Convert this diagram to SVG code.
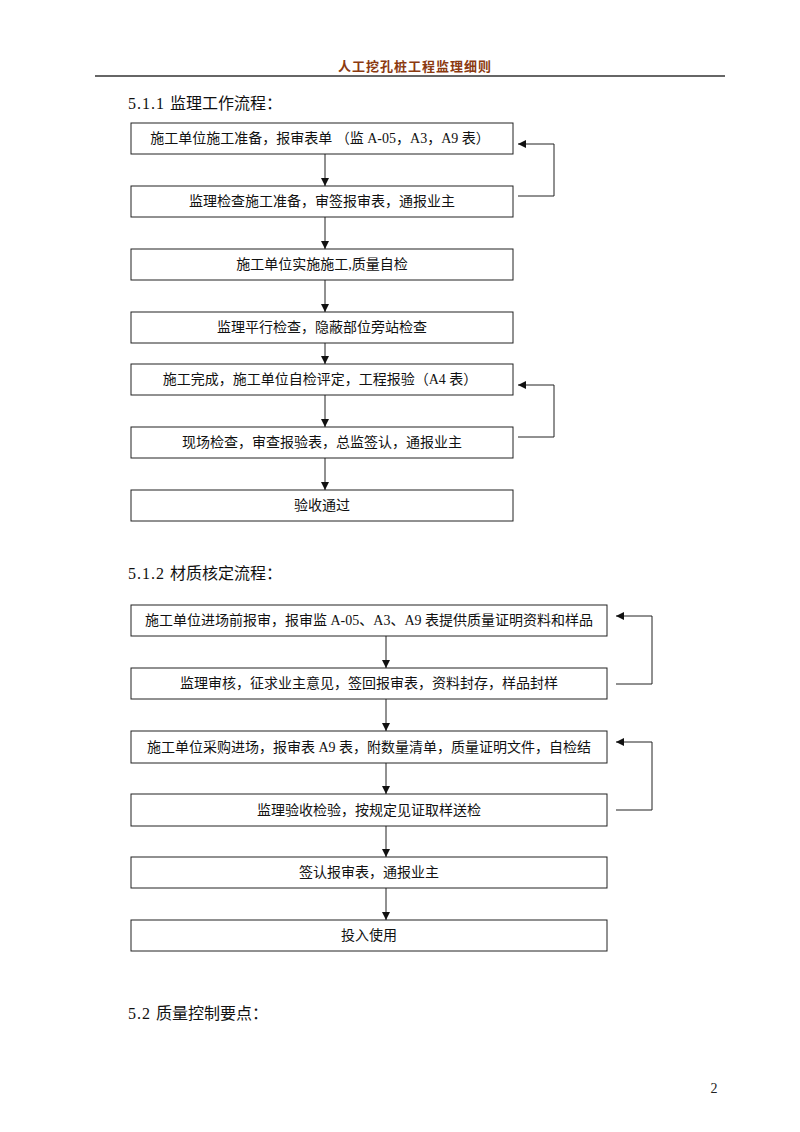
<svg xmlns="http://www.w3.org/2000/svg" width="800" height="1132" viewBox="0 0 800 1132">
<style>
.bg{fill:#fff}
.box{fill:#fff;stroke:#222;stroke-width:1}
.t{font-family:"Liberation Serif","Noto Sans CJK SC",serif;font-size:14px;fill:#111;text-anchor:middle;dominant-baseline:central}
.h{font-family:"Liberation Serif","Noto Sans CJK SC",serif;font-size:16px;fill:#111}
.num{letter-spacing:1px}
.hdr{font-family:"Liberation Serif","Noto Sans CJK SC",serif;font-size:13px;font-weight:bold;fill:#8B3A10;text-anchor:middle;letter-spacing:1px}
.ln{fill:none;stroke:#222;stroke-width:1}
</style>
<defs>
<marker id="ah" markerWidth="8" markerHeight="8" refX="8" refY="4" orient="auto" markerUnits="userSpaceOnUse">
<path d="M0,0 L8,4 L0,8 Z" fill="#111"/>
</marker>
</defs>
<rect class="bg" x="0" y="0" width="800" height="1132"/>
<g id="header">
<text class="hdr" x="415" y="71">人工挖孔桩工程监理细则</text>
<line x1="95" y1="76" x2="725" y2="76" stroke="#333" stroke-width="1.5"/>
</g>
<text class="h" x="128" y="109"><tspan class="num">5.1.1 </tspan>监理工作流程：</text>
<g id="f1n1"><rect class="box" x="131" y="123" width="382" height="31"/><text class="t" x="320" y="138.5">施工单位施工准备，报审表单 （监 A-05，A3，A9 表）</text></g>
<g id="f1n2"><rect class="box" x="131" y="186" width="382" height="31"/><text class="t" x="322" y="201.5">监理检查施工准备，审签报审表，通报业主</text></g>
<g id="f1n3"><rect class="box" x="131" y="249" width="382" height="31"/><text class="t" x="322" y="264.5">施工单位实施施工,质量自检</text></g>
<g id="f1n4"><rect class="box" x="131" y="312" width="382" height="31"/><text class="t" x="322" y="327.5">监理平行检查，隐蔽部位旁站检查</text></g>
<g id="f1n5"><rect class="box" x="131" y="364" width="382" height="31"/><text class="t" x="320" y="379.5">施工完成，施工单位自检评定，工程报验（A4 表）</text></g>
<g id="f1n6"><rect class="box" x="131" y="427" width="382" height="31"/><text class="t" x="322" y="442.5">现场检查，审查报验表，总监签认，通报业主</text></g>
<g id="f1n7"><rect class="box" x="131" y="490" width="382" height="31"/><text class="t" x="322" y="505.5">验收通过</text></g>
<text class="h" x="128" y="579"><tspan class="num">5.1.2 </tspan>材质核定流程：</text>
<g id="f2n1"><rect class="box" x="131" y="605" width="476" height="31"/><text class="t" x="369" y="620.5">施工单位进场前报审，报审监 A-05、A3、A9 表提供质量证明资料和样品</text></g>
<g id="f2n2"><rect class="box" x="131" y="668" width="476" height="31"/><text class="t" x="369" y="683.5">监理审核，征求业主意见，签回报审表，资料封存，样品封样</text></g>
<g id="f2n3"><rect class="box" x="131" y="731" width="476" height="32"/><text class="t" x="369" y="747">施工单位采购进场，报审表 A9 表，附数量清单，质量证明文件，自检结</text></g>
<g id="f2n4"><rect class="box" x="131" y="794" width="476" height="32"/><text class="t" x="369" y="810">监理验收检验，按规定见证取样送检</text></g>
<g id="f2n5"><rect class="box" x="131" y="857" width="476" height="31"/><text class="t" x="369" y="872.5">签认报审表，通报业主</text></g>
<g id="f2n6"><rect class="box" x="131" y="920" width="476" height="31"/><text class="t" x="369" y="935.5">投入使用</text></g>
<text class="h" x="128" y="1019"><tspan class="num">5.2 </tspan>质量控制要点：</text>
<text x="714" y="1093" font-family="Liberation Serif,serif" font-size="14" fill="#222" text-anchor="middle">2</text>
<g id="connectors">
<line class="ln" x1="325" y1="154" x2="325" y2="186" marker-end="url(#ah)"/>
<line class="ln" x1="325" y1="217" x2="325" y2="249" marker-end="url(#ah)"/>
<line class="ln" x1="325" y1="280" x2="325" y2="312" marker-end="url(#ah)"/>
<line class="ln" x1="325" y1="343" x2="325" y2="364" marker-end="url(#ah)"/>
<line class="ln" x1="325" y1="395" x2="325" y2="427" marker-end="url(#ah)"/>
<line class="ln" x1="325" y1="458" x2="325" y2="490" marker-end="url(#ah)"/>
<polyline class="ln" points="518,196 554,196 554,144 518,144" marker-end="url(#ah)"/>
<polyline class="ln" points="518,437 554,437 554,385 518,385" marker-end="url(#ah)"/>
<line class="ln" x1="386" y1="636" x2="386" y2="668" marker-end="url(#ah)"/>
<line class="ln" x1="386" y1="699" x2="386" y2="731" marker-end="url(#ah)"/>
<line class="ln" x1="386" y1="763" x2="386" y2="794" marker-end="url(#ah)"/>
<line class="ln" x1="386" y1="826" x2="386" y2="857" marker-end="url(#ah)"/>
<line class="ln" x1="386" y1="888" x2="386" y2="920" marker-end="url(#ah)"/>
<polyline class="ln" points="616,684 652,684 652,616 616,616" marker-end="url(#ah)"/>
<polyline class="ln" points="616,810 652,810 652,742 616,742" marker-end="url(#ah)"/>
</g>
</svg>
